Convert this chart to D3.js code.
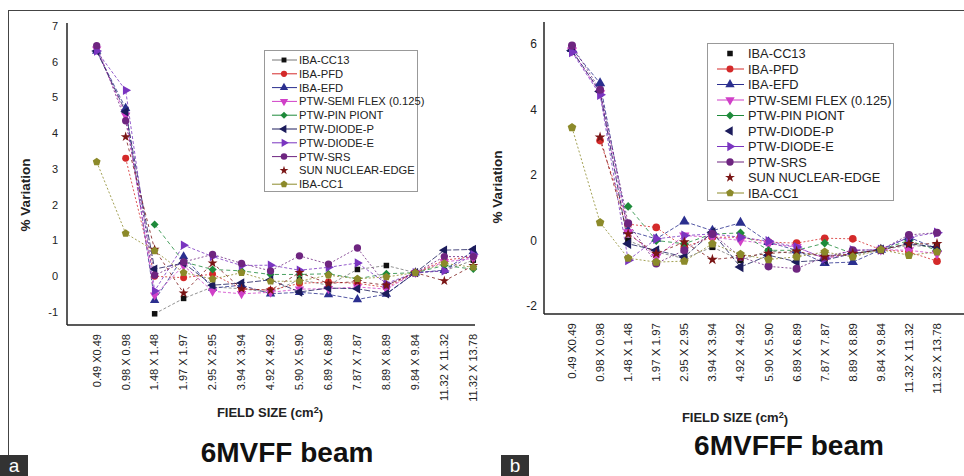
<!DOCTYPE html>
<html>
<head>
<meta charset="utf-8">
<script src="https://cdn.jsdelivr.net/npm/d3@7"></script>
<style>
  body { margin: 0; background: #fff; }
  svg { display: block; font-family: Arial, "Liberation Sans", sans-serif; }
</style>
</head>
<body>
<div id="chart"></div>
<script>
// Field sizes (x categories)
var categories = ["0.49 X0.49", "0.98 X 0.98", "1.48 X 1.48", "1.97 X 1.97", "2.95 X 2.95",
  "3.94 X 3.94", "4.92 X 4.92", "5.90 X 5.90", "6.89 X 6.89", "7.87 X 7.87",
  "8.89 X 8.89", "9.84 X 9.84", "11.32 X 11.32", "11.32 X 13.78"];

var seriesNames = ["IBA-CC13", "IBA-PFD", "IBA-EFD", "PTW-SEMI FLEX (0.125)", "PTW-PIN PIONT",
  "PTW-DIODE-P", "PTW-DIODE-E", "PTW-SRS", "SUN NUCLEAR-EDGE", "IBA-CC1"];

// Panel a : 6MV FF, % variation
var ffCC13   = [null, null, -1.05, -0.62, -0.3, -0.35, -0.45, -0.1, -0.25, 0.19, 0.3, 0.1, 0.15, 0.45];
var ffPFD    = [null, 3.3, 0.0, -0.04, 0.06, -0.35, -0.39, -0.2, -0.16, -0.2, -0.31, 0.1, 0.45, 0.55];
var ffEFD    = [6.3, 4.7, -0.67, 0.55, -0.33, -0.25, -0.49, -0.45, -0.51, -0.65, -0.5, 0.1, 0.17, 0.7];
var ffSemi   = [6.35, 4.5, -0.53, 0.3, -0.42, -0.49, -0.45, -0.36, -0.35, -0.3, -0.36, 0.1, 0.4, 0.5];
var ffPin    = [null, null, 1.45, 0.4, 0.19, 0.15, 0.05, 0.05, 0.07, -0.07, 0.07, 0.1, 0.3, 0.2];
var ffDiodeP = [6.3, 4.6, 0.2, 0.37, -0.25, -0.19, -0.1, -0.44, -0.33, -0.35, -0.49, 0.1, 0.73, 0.75];
var ffDiodeE = [6.3, 5.2, -0.41, 0.87, 0.55, 0.3, 0.31, 0.17, 0.25, 0.37, -0.2, 0.1, 0.15, 0.6];
var ffSRS    = [6.45, 4.35, 0.03, 0.4, 0.61, 0.36, 0.15, 0.57, 0.34, 0.79, -0.25, 0.1, 0.55, 0.55];
var ffEdge   = [null, 3.9, 0.75, -0.47, 0.37, -0.35, -0.39, 0.1, -0.2, -0.15, -0.25, 0.1, -0.13, 0.3];
var ffCC1    = [3.2, 1.2, 0.71, 0.1, -0.08, 0.1, -0.14, -0.14, 0.03, -0.07, -0.02, 0.1, 0.36, 0.25];

// Panel b : 6MV FFF, % variation
var fffCC13   = [null, null, 0.0, -0.35, -0.55, -0.2, -0.6, -0.32, -0.4, -0.45, -0.45, -0.28, -0.15, -0.2];
var fffPFD    = [null, 3.05, 0.5, 0.4, -0.2, 0.1, 0.1, -0.05, -0.08, 0.07, 0.05, -0.28, -0.35, -0.63];
var fffEFD    = [5.85, 4.8, 0.3, 0.05, 0.58, 0.3, 0.54, -0.05, -0.3, -0.69, -0.66, -0.28, 0.1, -0.25];
var fffSemi   = [5.8, 4.5, 0.25, -0.5, 0.15, 0.1, 0.0, -0.1, -0.2, -0.55, -0.4, -0.28, -0.3, -0.4];
var fffPin    = [null, null, 1.04, 0.0, -0.1, 0.2, 0.23, -0.3, -0.3, -0.08, -0.4, -0.28, 0.0, -0.3];
var fffDiodeP = [5.8, 4.55, -0.1, -0.3, -0.5, 0.25, -0.81, -0.45, -0.65, -0.6, -0.4, -0.28, -0.1, -0.2];
var fffDiodeE = [5.75, 4.45, -0.6, 0.05, 0.15, 0.2, 0.1, -0.02, -0.2, -0.55, -0.3, -0.28, 0.1, 0.24];
var fffSRS    = [5.95, 4.6, 0.53, -0.7, -0.3, 0.2, -0.5, -0.79, -0.86, -0.5, -0.3, -0.28, 0.17, 0.24];
var fffEdge   = [null, 3.15, 0.2, -0.4, -0.05, -0.58, -0.5, -0.4, -0.33, -0.5, -0.4, -0.28, -0.1, -0.1];
var fffCC1    = [3.45, 0.55, -0.54, -0.66, -0.63, -0.1, -0.42, -0.58, -0.5, -0.35, -0.5, -0.28, -0.45, -0.35];

var ffTicks = [-1, 0, 1, 2, 3, 4, 5, 6, 7];
var fffTicks = [-2, 0, 2, 4, 6];

// marker / colour per series
var colors = ["#111111", "#d42a2a", "#2b2f8f", "#d040c8", "#1e8a3a", "#1c1c5c", "#7a35c0", "#6e2580", "#7a1515", "#8c8a2a"];
var lineColors = ["#777777", "#d42a2a", "#2b2f8f", "#d040c8", "#1e8a3a", "#1c1c5c", "#7a35c0", "#6e2580", "#7a1515", "#8c8a2a"];
var dashes = ["3,2", "2,2", "4,2", "3,2", "4,3", "6,2", "3,2", "2,2", "3,3", "2,2"];

var pentagon = {
  draw: function(ctx, size) {
    var r = Math.sqrt(size / 2.38);
    for (var i = 0; i < 5; i++) {
      var a = -Math.PI / 2 + i * 2 * Math.PI / 5;
      if (i === 0) ctx.moveTo(r * Math.cos(a), r * Math.sin(a));
      else ctx.lineTo(r * Math.cos(a), r * Math.sin(a));
    }
    ctx.closePath();
  }
};
var markers = [
  {type: d3.symbolSquare, rot: 0, k: 0.8},
  {type: d3.symbolCircle, rot: 0, k: 1},
  {type: d3.symbolTriangle, rot: 0, k: 1},
  {type: d3.symbolTriangle, rot: 180, k: 1},
  {type: d3.symbolSquare, rot: 45, k: 0.85},
  {type: d3.symbolTriangle, rot: -90, k: 1},
  {type: d3.symbolTriangle, rot: 90, k: 1},
  {type: d3.symbolCircle, rot: 0, k: 1.1},
  {type: d3.symbolStar, rot: 0, k: 0.8},
  {type: pentagon, rot: 0, k: 1.05}
];

var svg = d3.select("#chart")
  .append("svg")
    .attr("width", 964)
    .attr("height", 476);

// figure frame
svg.append("line").attr("x1", 8).attr("x2", 964).attr("y1", 10.5).attr("y2", 10.5)
  .attr("stroke", "#444").attr("stroke-width", 1);
svg.append("line").attr("x1", 8.5).attr("x2", 8.5).attr("y1", 10).attr("y2", 456)
  .attr("stroke", "#444").attr("stroke-width", 1);

function drawPanel(p) {
  var g = svg.append("g");

  var x = d3.scalePoint().domain(categories).range(p.xRange);
  var y = d3.scaleLinear().domain(p.yDomain).range(p.yRange);

  // axes (no tick marks, just labels)
  g.append("line").attr("x1", p.axisX).attr("x2", p.axisX).attr("y1", p.axisTop).attr("y2", p.axisY)
    .attr("stroke", "#222").attr("stroke-width", 1.5);
  g.append("line").attr("x1", p.axisX).attr("x2", p.axisRight).attr("y1", p.axisY).attr("y2", p.axisY)
    .attr("stroke", "#222").attr("stroke-width", 1.5);

  g.selectAll(".ytick")
    .data(p.ticks)
    .enter()
    .append("text")
      .attr("x", p.tickX)
      .attr("y", function(d) { return y(d); })
      .attr("dy", "0.35em")
      .attr("text-anchor", "end")
      .attr("font-size", p.tickSize)
      .attr("fill", "#222")
      .text(function(d) { return d; });

  g.selectAll(".xtick")
    .data(categories)
    .enter()
    .append("text")
      .attr("transform", function(d) { return "translate(" + x(d) + "," + p.xLabelY + ") rotate(-90)"; })
      .attr("dy", "0.35em")
      .attr("text-anchor", "end")
      .attr("font-size", p.xTickSize)
      .attr("fill", "#222")
      .text(function(d) { return d; });

  // axis titles
  var xt = g.append("text")
    .attr("x", p.xTitle[0]).attr("y", p.xTitle[1])
    .attr("text-anchor", "middle").attr("font-weight", "bold")
    .attr("font-size", p.titleSize).attr("fill", "#222");
  xt.append("tspan").text("FIELD SIZE (cm");
  xt.append("tspan").attr("dy", "-0.45em").attr("font-size", p.titleSize * 0.7).text("2");
  xt.append("tspan").attr("dy", "0.45em").text(")");

  g.append("text")
    .attr("transform", "translate(" + p.yTitle[0] + "," + p.yTitle[1] + ") rotate(-90)")
    .attr("text-anchor", "middle").attr("font-weight", "bold")
    .attr("font-size", p.titleSize + 0.5).attr("fill", "#222")
    .text("% Variation");

  g.append("text")
    .attr("x", p.beam[0]).attr("y", p.beam[1])
    .attr("text-anchor", "middle").attr("font-weight", "bold")
    .attr("font-size", 28).attr("fill", "#111")
    .text(p.beamText);

  // series lines
  var line = d3.line()
    .defined(function(d) { return d != null; })
    .x(function(d, i) { return x(categories[i]); })
    .y(function(d) { return y(d); });

  p.values.forEach(function(vals, s) {
    g.append("path")
      .attr("d", line(vals))
      .attr("fill", "none")
      .attr("stroke", lineColors[s])
      .attr("stroke-width", 1)
      .attr("stroke-opacity", 0.8)
      .attr("stroke-dasharray", dashes[s]);
  });

  // markers
  p.values.forEach(function(vals, s) {
    var m = markers[s];
    var sym = d3.symbol().type(m.type).size(p.markerSize * m.k);
    g.selectAll(".m" + s)
      .data(vals.map(function(v, i) { return {v: v, i: i}; }).filter(function(d) { return d.v != null; }))
      .enter()
      .append("path")
        .attr("d", sym)
        .attr("transform", function(d) {
          return "translate(" + x(categories[d.i]) + "," + y(d.v) + ") rotate(" + m.rot + ")";
        })
        .attr("fill", colors[s]);
  });

  // legend
  var L = p.legend;
  g.append("rect")
    .attr("x", L.x).attr("y", L.y).attr("width", L.w).attr("height", L.h)
    .attr("fill", "#fff").attr("stroke", "#999").attr("stroke-width", 1);
  seriesNames.forEach(function(name, s) {
    var ry = L.row0 + s * L.step;
    if (L.noLine.indexOf(s) < 0) {
      g.append("line")
        .attr("x1", L.lx1).attr("x2", L.lx2).attr("y1", ry).attr("y2", ry)
        .attr("stroke", lineColors[s]).attr("stroke-width", 1);
    }
    var m = markers[s];
    g.append("path")
      .attr("d", d3.symbol().type(m.type).size(L.msize * m.k)())
      .attr("transform", "translate(" + L.mx + "," + ry + ") rotate(" + m.rot + ")")
      .attr("fill", colors[s]);
    g.append("text")
      .attr("x", L.tx).attr("y", ry).attr("dy", "0.36em")
      .attr("font-size", L.font).attr("fill", "#222")
      .text(name);
  });
}

drawPanel({
  values: [ffCC13, ffPFD, ffEFD, ffSemi, ffPin, ffDiodeP, ffDiodeE, ffSRS, ffEdge, ffCC1],
  ticks: ffTicks,
  xRange: [96.7, 473.3], yDomain: [-1, 7], yRange: [312, 26],
  axisX: 67, axisTop: 23, axisY: 325, axisRight: 475,
  tickX: 58, tickSize: 11, xTickSize: 11, xLabelY: 334,
  xTitle: [270, 417], yTitle: [30, 195], titleSize: 13,
  beam: [287, 462], beamText: "6MVFF beam",
  markerSize: 38,
  legend: {x: 264.5, y: 50.5, w: 153, h: 141, row0: 60, step: 13.8,
           lx1: 272, lx2: 297, mx: 284, tx: 299, font: 11.2, msize: 30, noLine: [8]}
});

drawPanel({
  values: [fffCC13, fffPFD, fffEFD, fffSemi, fffPin, fffDiodeP, fffDiodeE, fffSRS, fffEdge, fffCC1],
  ticks: fffTicks,
  xRange: [572, 937], yDomain: [-2, 6], yRange: [306, 44],
  axisX: 544, axisTop: 22, axisY: 314, axisRight: 964,
  tickX: 537, tickSize: 12, xTickSize: 11.5, xLabelY: 323,
  xTitle: [735, 422], yTitle: [502, 187], titleSize: 13,
  beam: [789, 455], beamText: "6MVFFF beam",
  markerSize: 46,
  legend: {x: 707.5, y: 43.5, w: 186, h: 157, row0: 53.5, step: 15.5,
           lx1: 717, lx2: 744, mx: 730, tx: 748, font: 12.8, msize: 38, noLine: [0, 5, 8]}
});

// panel letters
[{t: "a", x: 0}, {t: "b", x: 501}].forEach(function(d) {
  svg.append("rect").attr("x", d.x).attr("y", 455).attr("width", 28).attr("height", 21).attr("fill", "#333");
  svg.append("text").attr("x", d.x + 14).attr("y", 472).attr("text-anchor", "middle")
    .attr("font-size", 19).attr("fill", "#fff").text(d.t);
});
</script>
</body>
</html>
